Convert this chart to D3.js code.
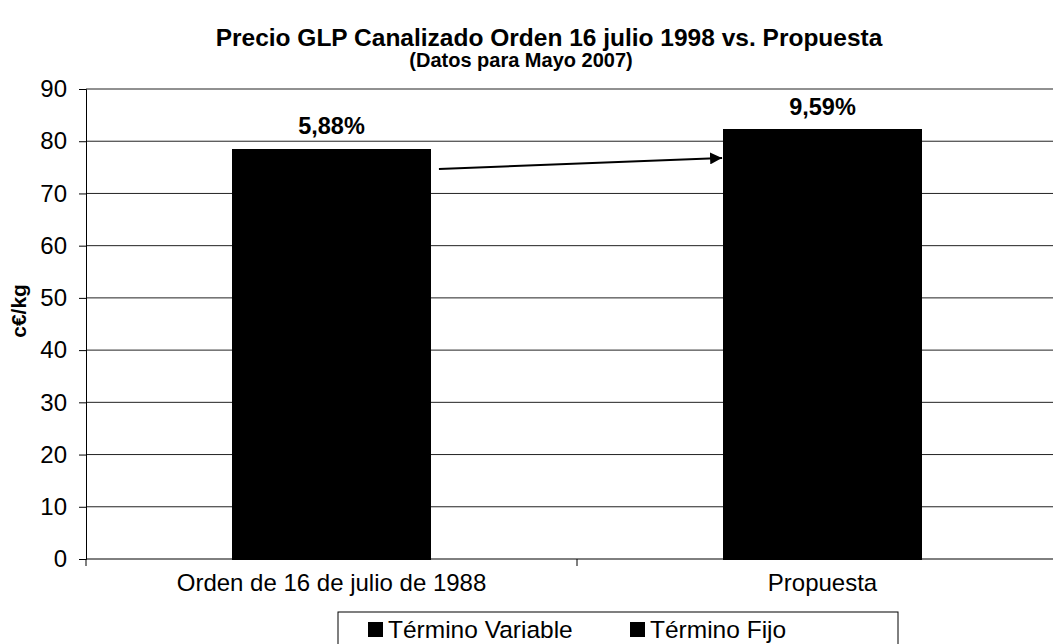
<!DOCTYPE html>
<html>
<head>
<meta charset="utf-8">
<script src="https://cdn.jsdelivr.net/npm/d3@7"></script>
<style>
  body { margin: 0; background: #fff; }
  text { font-family: Arial, "Liberation Sans", sans-serif; fill: #000; }
</style>
</head>
<body>
<div class="svg-container"></div>
<script>
// chart values
const categories = ['Orden de 16 de julio de 1988', 'Propuesta'];
const seriesNames = ['Término Variable', 'Término Fijo'];
const variableValues = [73.9, 74.3];
const fijoValues = [4.6, 7.9];
const pctLabels = ['5,88%', '9,59%'];
const yTicks = [0, 10, 20, 30, 40, 50, 60, 70, 80, 90];
// arrow between the bars (values on the y scale)
const arrowValues = [74.7, 76.8];

//required dimensions
const width = 1053;
const height = 644;
const margin = { top: 89, right: -15, bottom: 85, left: 86 };
const fontFamily = 'Arial, "Liberation Sans", sans-serif';

// table for the stack
const rows = categories.map((c, i) => ({
  cat: c,
  [seriesNames[0]]: variableValues[i],
  [seriesNames[1]]: fijoValues[i]
}));
const stacked = d3.stack().keys(seriesNames)(rows);

const svg = d3.select('.svg-container')
  .append('svg')
  .attr('width', width)
  .attr('height', height);

//scales
const xScale = d3.scaleBand()
  .domain(categories)
  .range([margin.left, width - margin.right])
  .padding(0);

const barWidth = xScale.bandwidth() * 0.405;
const barX = c => xScale(c) + (xScale.bandwidth() - barWidth) / 2;

const yScale = d3.scaleLinear()
  .domain([0, 90])
  .range([height - margin.bottom, margin.top]);

//gridlines
svg.append('g')
  .selectAll('line')
  .data(yTicks.filter(d => d > 0))
  .join('line')
  .attr('x1', margin.left)
  .attr('x2', width - margin.right)
  .attr('y1', d => yScale(d))
  .attr('y2', d => yScale(d))
  .attr('stroke', '#222')
  .attr('stroke-width', 1);

//bars (both series are drawn in black)
svg.append('g')
  .attr('shape-rendering', 'crispEdges')
  .selectAll('g')
  .data(stacked)
  .join('g')
  .attr('fill', '#000')
  .attr('stroke', '#000')
  .attr('stroke-width', 1)
  .selectAll('rect')
  .data(d => d)
  .join('rect')
  .attr('x', d => barX(d.data.cat))
  .attr('y', d => yScale(d[1]))
  .attr('width', barWidth)
  .attr('height', d => yScale(d[0]) - yScale(d[1]));

//y axis
const yAxis = d3.axisLeft(yScale)
  .tickValues(yTicks)
  .tickSize(7)
  .tickPadding(12)
  .tickFormat(d3.format('d'));

svg.append('g')
  .attr('class', 'y-axis')
  .attr('transform', `translate(${margin.left},0)`)
  .call(yAxis)
  .call(g => g.selectAll('line, path').attr('stroke', '#000'))
  .call(g => g.selectAll('text').attr('font-size', 24).attr('font-family', fontFamily));

//x axis
const xAxis = d3.axisBottom(xScale)
  .tickSize(0)
  .tickPadding(15);

svg.append('g')
  .attr('class', 'x-axis')
  .attr('transform', `translate(0,${yScale(0)})`)
  .call(xAxis)
  .call(g => g.select('.domain').attr('stroke', '#000').attr('d', `M${margin.left},0H${width - margin.right}`))
  .call(g => g.selectAll('text').attr('font-size', 24).attr('font-family', fontFamily).attr('dy', '0.71em'));

// category boundary ticks
svg.append('g')
  .selectAll('line')
  .data(categories)
  .join('line')
  .attr('x1', d => xScale(d))
  .attr('x2', d => xScale(d))
  .attr('y1', yScale(0))
  .attr('y2', yScale(0) + 7)
  .attr('stroke', '#000');

//percentage labels
svg.selectAll('.bar-text')
  .data(rows)
  .join('text')
  .attr('class', 'bar-text')
  .attr('x', d => barX(d.cat) + barWidth / 2)
  .attr('y', (d, i) => yScale(variableValues[i] + fijoValues[i]) - 15)
  .attr('text-anchor', 'middle')
  .attr('font-size', 23.5)
  .attr('font-weight', 'bold')
  .text((d, i) => pctLabels[i]);

//arrow
svg.append('defs').append('marker')
  .attr('id', 'arrowhead')
  .attr('viewBox', '0 0 10 10')
  .attr('refX', 10).attr('refY', 5)
  .attr('markerWidth', 6).attr('markerHeight', 6)
  .attr('markerUnits', 'strokeWidth')
  .attr('orient', 'auto')
  .append('path')
  .attr('d', 'M0,0L10,5L0,10z')
  .attr('fill', '#000');

svg.append('line')
  .attr('x1', barX(categories[0]) + barWidth + 8)
  .attr('y1', yScale(arrowValues[0]))
  .attr('x2', barX(categories[1]) - 1)
  .attr('y2', yScale(arrowValues[1]))
  .attr('stroke', '#000')
  .attr('stroke-width', 2)
  .attr('marker-end', 'url(#arrowhead)');

//titles
svg.append('text')
  .attr('x', 549)
  .attr('y', 46)
  .attr('text-anchor', 'middle')
  .attr('font-size', 24.5)
  .attr('font-weight', 'bold')
  .text('Precio GLP Canalizado Orden 16 julio 1998 vs. Propuesta');

svg.append('text')
  .attr('x', 521)
  .attr('y', 67)
  .attr('text-anchor', 'middle')
  .attr('font-size', 20)
  .attr('font-weight', 'bold')
  .text('(Datos para Mayo 2007)');

svg.append('text')
  .attr('transform', `translate(26,${yScale(47.5)}) rotate(-90)`)
  .attr('text-anchor', 'middle')
  .attr('font-size', 21)
  .attr('font-weight', 'bold')
  .text('c€/kg');

//legend
const legend = svg.append('g').attr('transform', 'translate(338,612)');
legend.append('rect')
  .attr('x', 0).attr('y', 0)
  .attr('width', 560).attr('height', 50)
  .attr('fill', '#fff')
  .attr('stroke', '#000');

const legendX = [30, 292];
const items = legend.selectAll('.legend-item')
  .data(seriesNames)
  .join('g')
  .attr('class', 'legend-item')
  .attr('transform', (d, i) => `translate(${legendX[i]},0)`);

items.append('rect')
  .attr('x', 0).attr('y', 10)
  .attr('width', 15).attr('height', 15)
  .attr('fill', '#000');

items.append('text')
  .attr('x', 20).attr('y', 26)
  .attr('font-size', 24.5)
  .text(d => d);
</script>
</body>
</html>
